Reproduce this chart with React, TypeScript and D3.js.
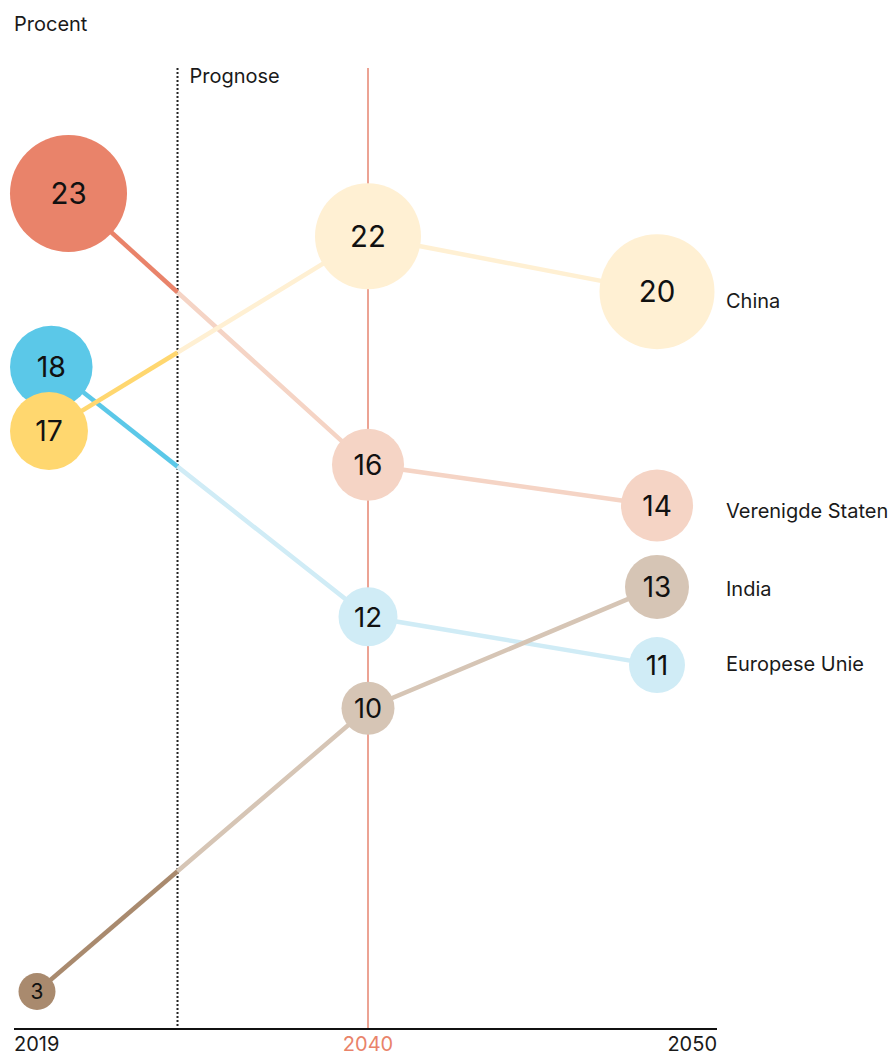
import React from "react";
import * as d3 from "d3";

// years on the x axis
const years = ["2019", "2040", "2050"];
const prognoseYear = 2028.7;

// series in drawing order
const series = ["Verenigde Staten", "Europese Unie", "China", "India"];

// label values shown in the bubbles (2019, 2040, 2050)
const usValues = [23, 16, 14];
const euValues = [18, 12, 11];
const chinaValues = [17, 22, 20];
const indiaValues = [3, 10, 13];

// vertical position of each bubble, in percent units, as placed in the picture
const usPos = [23, 16.2, 15.18];
const euPos = [18.65, 12.39, 11.18];
const chinaPos = [17.05, 21.93, 20.54];
const indiaPos = [3, 10.1, 13.14];

// bubble size (relative area)
const usSize = [100, 37.9, 37.9];
const euSize = [49.8, 25.4, 22.9];
const chinaSize = [44.4, 82.1, 96.6];
const indiaSize = [10, 20.5, 29.9];

// where the right-hand label sits, percent units
const labelPos = [15.04, 11.22, 20.3, 13.1];

const strongColors = ["#E9836A", "#5BC8E8", "#FFD76F", "#A98A6E"];
const lightColors = ["#F5D4C5", "#D0ECF6", "#FFF0D3", "#D6C5B5"];

const values = [usValues, euValues, chinaValues, indiaValues];
const positions = [usPos, euPos, chinaPos, indiaPos];
const sizes = [usSize, euSize, chinaSize, indiaSize];

const W = 894;
const H = 1055;
const left = 14;
const right = 717;
const top = 68;
const axisY = 1029;
const font = "Inter, 'Noto Sans', sans-serif";

export default function App() {
  const x = d3.scalePoint<string>().domain(years).range([left, 722]);
  const y = d3.scaleLinear().domain([3, 23]).range([991.5, 193.5]);
  const r = d3.scaleSqrt().domain([0, 100]).range([0, 58.5]);
  const fontSize = d3.scaleLinear().domain([18, 27, 55]).range([20.5, 27.5, 29.5]).clamp(true);

  const xYear = d3
    .scaleLinear()
    .domain([+years[0], +years[1]])
    .range([x(years[0])!, x(years[1])!]);
  const xProg = xYear(prognoseYear);

  const bubbleX = (i: number, rad: number) => {
    if (i === 0) return x(years[0])! - 4 + Math.max(rad, 27);
    if (i === 2) return x(years[2])! - 65;
    return x(years[1])!;
  };

  const pts = series.map((_, s) =>
    years.map((_, i) => {
      const rad = r(sizes[s][i]);
      return { cx: bubbleX(i, rad), cy: y(positions[s][i]), rad, v: values[s][i], i };
    })
  );

  const line = d3.line<[number, number]>();

  return (
    <svg width={W} height={H} style={{ position: "absolute", left: 0, top: 0 }} fontFamily={font}>
      <rect width={W} height={H} fill="#fff" />
      <text x={left} y={30.5} fontSize={20} fill="#1a1a1a">Procent</text>

      {/* prognose divider */}
      <line x1={xProg} x2={xProg} y1={top} y2={axisY} stroke="#222" strokeWidth={2} strokeDasharray="2,2" />
      <text x={xProg + 12} y={83} fontSize={20} fill="#1a1a1a">Prognose</text>

      {/* 2040 marker */}
      <line x1={x("2040")} x2={x("2040")} y1={top} y2={axisY} stroke="#E2725A" strokeWidth={1.3} />

      {/* lines */}
      {pts.map((p, s) => {
        const t = (xProg - p[0].cx) / (p[1].cx - p[0].cx);
        const my = p[0].cy + t * (p[1].cy - p[0].cy);
        return (
          <g key={"l" + s}>
            <path d={line([[p[0].cx, p[0].cy], [xProg, my]])!} stroke={strongColors[s]} strokeWidth={4.5} fill="none" />
            <path
              d={line([[xProg, my], [p[1].cx, p[1].cy], [p[2].cx, p[2].cy]])!}
              stroke={lightColors[s]}
              strokeWidth={4.5}
              fill="none"
            />
          </g>
        );
      })}

      {/* bubbles */}
      {pts.map((p, s) => (
        <g key={"b" + s}>
          {p.map((d) => (
            <g key={d.i}>
              <circle cx={d.cx} cy={d.cy} r={d.rad} fill={d.i === 0 ? strongColors[s] : lightColors[s]} />
              <text
                x={d.cx}
                y={d.cy}
                dy="0.36em"
                textAnchor="middle"
                fontSize={fontSize(d.rad)}
                fill="#111"
              >
                {d.v}
              </text>
            </g>
          ))}
        </g>
      ))}

      {/* series labels */}
      {series.map((name, s) => (
        <text key={name} x={726} y={y(labelPos[s])} dy="0.36em" fontSize={20} fill="#1a1a1a">
          {name}
        </text>
      ))}

      {/* x axis */}
      <line x1={left} x2={right} y1={axisY} y2={axisY} stroke="#111" strokeWidth={2} />
      <g fontSize={20}>
        <text x={left} y={1051} fill="#1a1a1a">{years[0]}</text>
        <text x={x("2040")} y={1051} textAnchor="middle" fill="#E9836A">{years[1]}</text>
        <text x={right} y={1051} textAnchor="end" fill="#1a1a1a">{years[2]}</text>
      </g>
    </svg>
  );
}
